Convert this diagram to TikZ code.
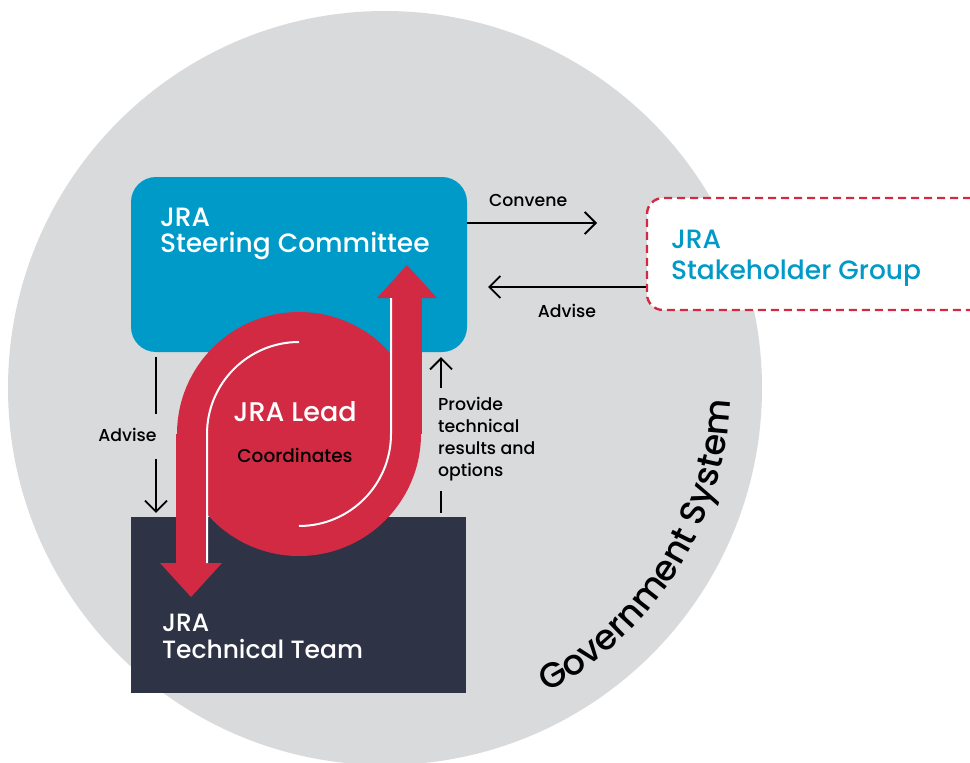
\documentclass[tikz,border=0pt]{standalone}
\usepackage{fontspec}
\setmainfont{Poppins Medium}
\usetikzlibrary{arrows.meta,positioning,calc,decorations.text}
\usepackage{xcolor}
\definecolor{sysgray}{HTML}{D9DADC}
\definecolor{jrablue}{HTML}{009AC8}
\definecolor{jranavy}{HTML}{2E3346}
\definecolor{jrared}{HTML}{D22A43}
\newcommand{\govfont}{\fontsize{35}{35}\selectfont}

\begin{document}
\begin{tikzpicture}[x=1pt,y=1pt,
    >={Straight Barb[length=11pt,width=22pt]},
    flow/.style={line width=1.8pt},
    boxtext/.style={align=left,text=white,inner sep=0pt,font=\fontsize{26.5}{26}\selectfont},
    lbl/.style={align=left,inner sep=0pt,font=\fontsize{17.3}{22}\selectfont}]
    \useasboundingbox (0,0) rectangle (970,-763);
    % government system
    \coordinate (sysc) at (385,-388);
    \fill[sysgray] (sysc) circle[radius=377];
    \path[decorate,decoration={text along path,text align=center,text={|\govfont|Government System}}]
      (sysc) ++(-63:345) arc[start angle=-63,end angle=-1,radius=345];

    % boxes
    \node[fill=jrablue,rounded corners=25pt,minimum width=336pt,minimum height=175pt] (steer) at (299,-264.5) {};
    \node[fill=jranavy,minimum width=335pt,minimum height=176pt] (tech) at (298.5,-605) {};
    \node[draw=jrared,fill=white,line width=2.4pt,dash pattern=on 8pt off 5pt,rounded corners=16pt,
      minimum width=340pt,minimum height=112pt] (stake) at (817,-254) {};
    \node[boxtext,anchor=north west] (steertxt) at ([xshift=29pt,yshift=-31pt]steer.north west) {JRA\\Steering Committee};
    \node[boxtext,anchor=south west,font=\fontsize{25}{27}\selectfont] (techtxt) at ([xshift=31pt,yshift=34pt]tech.south west) {JRA\\Technical Team};
    \node[boxtext,anchor=north west,text=jrablue,font=\fontsize{26.5}{31}\selectfont] (staketxt) at ([xshift=25pt,yshift=-33pt]stake.north west) {JRA\\Stakeholder Group};

    % lead
    \fill[jrared] (299,-434) circle[radius=122];
    \fill[jrared] (176,-434) rectangle (207,-563);
    \fill[jrared] (160,-563) -- (222,-563) -- (191,-597) -- cycle;
    \fill[jrared] (391,-298) rectangle (422,-434);
    \fill[jrared] (377,-298) -- (437,-298) -- (407,-265) -- cycle;
    \draw[white,line width=2pt] (207,-563) -- (207,-434) arc[start angle=180,end angle=90,radius=92];
    \draw[white,line width=2pt] (391,-298) -- (391,-434) arc[start angle=0,end angle=-90,radius=92];
    \node[boxtext,anchor=center,font=\fontsize{27}{27}\selectfont] (lead) at (295,-412) {JRA Lead};
    \node[lbl,below=26pt of lead,anchor=north,font=\fontsize{18.5}{18}\selectfont,text=black] (coord) {Coordinates};

    % connectors
    \coordinate (convend) at (597,-223);
    \draw[flow,->] (steer.east |- convend) -- (convend) node[lbl,midway,above=15pt,xshift=-4pt] (conv) {Convene};
    \coordinate (advend) at (488,-287);
    \draw[flow,->] (stake.west |- advend) -- (advend) node[lbl,midway,below=16pt] (advr) {Advise};

    \node[lbl] (advl) at (127.5,-435) {Advise};
    \coordinate (ax) at (156,0);
    \draw[flow,shorten <=5pt] (steer.south -| ax) -- ([yshift=14pt]advl.north -| ax);
    \draw[flow,->,shorten >=4pt] ([yshift=-17pt]advl.south -| ax) -- (tech.north -| ax);

    \node[lbl,anchor=north west] (prov) at (438,-397) {Provide\\technical\\results and\\options};
    \coordinate (px) at (441,0);
    \draw[flow,->,shorten >=5pt] ([yshift=9pt]prov.north -| px) -- (steer.south -| px);
    \draw[flow,shorten <=4pt] (tech.north -| px) -- ([yshift=-10pt]prov.south -| px);
  \end{tikzpicture}
\end{document}
